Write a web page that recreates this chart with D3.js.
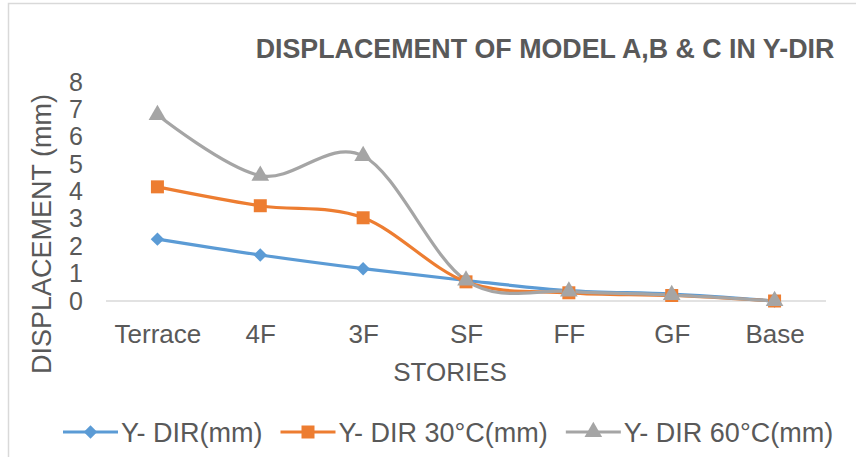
<!DOCTYPE html>
<html>
<head>
<meta charset="utf-8">
<script src="https://cdn.jsdelivr.net/npm/d3@7/dist/d3.min.js"></script>
<style>
  html, body { margin: 0; padding: 0; background: #fff; }
  svg text { font-family: "Liberation Sans", Arial, sans-serif; fill: #595959; }
</style>
</head>
<body>
<svg id="chart" width="856" height="457"></svg>
<script>
// Storey-wise displacement (mm) in the Y direction for three temperature cases
const categories = ["Terrace", "4F", "3F", "SF", "FF", "GF", "Base"];
const yDir      = [2.26, 1.68, 1.18, 0.75, 0.38, 0.25, 0.0];
const yDir30    = [4.17, 3.48, 3.04, 0.70, 0.30, 0.20, 0.0];
const yDir60    = [6.80, 4.58, 5.30, 0.75, 0.35, 0.22, 0.0];
const yTicks    = [0, 1, 2, 3, 4, 5, 6, 7, 8];
const seriesNames = ["Y- DIR(mm)", "Y- DIR 30°C(mm)", "Y- DIR 60°C(mm)"];
const seriesColors = ["#5B9BD5", "#ED7D31", "#A5A5A5"];
const seriesData = [yDir, yDir30, yDir60];

// square diamond (a square turned 45 degrees)
const symbolSquareDiamond = {
  draw(context, size) {
    const r = Math.sqrt(size / 2);
    context.moveTo(0, -r);
    context.lineTo(r, 0);
    context.lineTo(0, r);
    context.lineTo(-r, 0);
    context.closePath();
  }
};
const seriesSymbols = [symbolSquareDiamond, d3.symbolSquare, d3.symbolTriangle];
const symbolSizes = [90, 169, 135];

const svg = d3.select("#chart");

// chart frame
svg.append("rect")
  .attr("x", 8.5).attr("y", 3.5).attr("width", 900).attr("height", 500)
  .attr("fill", "none").attr("stroke", "#d9d9d9").attr("stroke-width", 1.5);

const plot = { left: 106, right: 826, top: 82, bottom: 301 };

const x = d3.scalePoint().domain(categories).range([plot.left, plot.right]).padding(0.5);
const y = d3.scaleLinear().domain([0, 8]).range([plot.bottom, plot.top]);

// title
svg.append("text")
  .attr("x", 545).attr("y", 58)
  .attr("text-anchor", "middle")
  .attr("font-size", 26.8).attr("font-weight", "bold")
  .text("DISPLACEMENT OF MODEL A,B & C IN Y-DIR");

// y axis: labels only
const yAxis = d3.axisLeft(y).tickValues(yTicks).tickSize(0).tickPadding(0);
const gy = svg.append("g").attr("transform", `translate(83,0)`).call(yAxis);
gy.select(".domain").remove();
gy.selectAll("text").attr("font-size", 25).attr("font-family", null).attr("fill", null);

// x axis: line and category labels
const xAxis = d3.axisBottom(x).tickSize(0).tickPadding(0);
const gx = svg.append("g").attr("transform", `translate(0,${plot.bottom})`).call(xAxis);
gx.select(".domain").attr("stroke", "#d9d9d9").attr("stroke-width", 1.5)
  .attr("d", `M${plot.left},0H${plot.right}`);
gx.selectAll("text").attr("font-size", 26).attr("font-family", null).attr("fill", null)
  .attr("dy", null).attr("y", 42);

// axis titles
svg.append("text")
  .attr("x", 450).attr("y", 381)
  .attr("text-anchor", "middle").attr("font-size", 26)
  .text("STORIES");
svg.append("text")
  .attr("transform", "translate(51,234) rotate(-90)")
  .attr("text-anchor", "middle").attr("font-size", 27)
  .text("DISPLACEMENT (mm)");

// series lines and markers
const line = d3.line()
  .x((d, i) => x(categories[i]))
  .y(d => y(d))
  .curve(d3.curveCardinal.tension(0));

seriesData.forEach((vals, s) => {
  svg.append("path")
    .datum(vals)
    .attr("d", line)
    .attr("fill", "none")
    .attr("stroke", seriesColors[s])
    .attr("stroke-width", 3.2)
    .attr("stroke-linecap", "round");
});

seriesData.forEach((vals, s) => {
  svg.append("g").selectAll("path")
    .data(vals)
    .join("path")
    .attr("transform", (d, i) => `translate(${x(categories[i])},${y(d)})`)
    .attr("d", d3.symbol().type(seriesSymbols[s]).size(symbolSizes[s]))
    .attr("fill", seriesColors[s]);
});

// legend
const legend = svg.append("g").attr("transform", "translate(63,432)");
let lx = 0;
seriesNames.forEach((name, s) => {
  const g = legend.append("g").attr("transform", `translate(${lx},0)`);
  g.append("line").attr("x1", 0).attr("x2", 55).attr("y1", 0).attr("y2", 0)
    .attr("stroke", seriesColors[s]).attr("stroke-width", 3.2);
  g.append("path").attr("transform", "translate(27.5,0)")
    .attr("d", d3.symbol().type(seriesSymbols[s]).size(symbolSizes[s]))
    .attr("fill", seriesColors[s]);
  const t = g.append("text").attr("x", 58).attr("y", 9.5)
    .attr("font-size", 27).text(name);
  lx += 58 + t.node().getComputedTextLength() + 18;
});
</script>
</body>
</html>
